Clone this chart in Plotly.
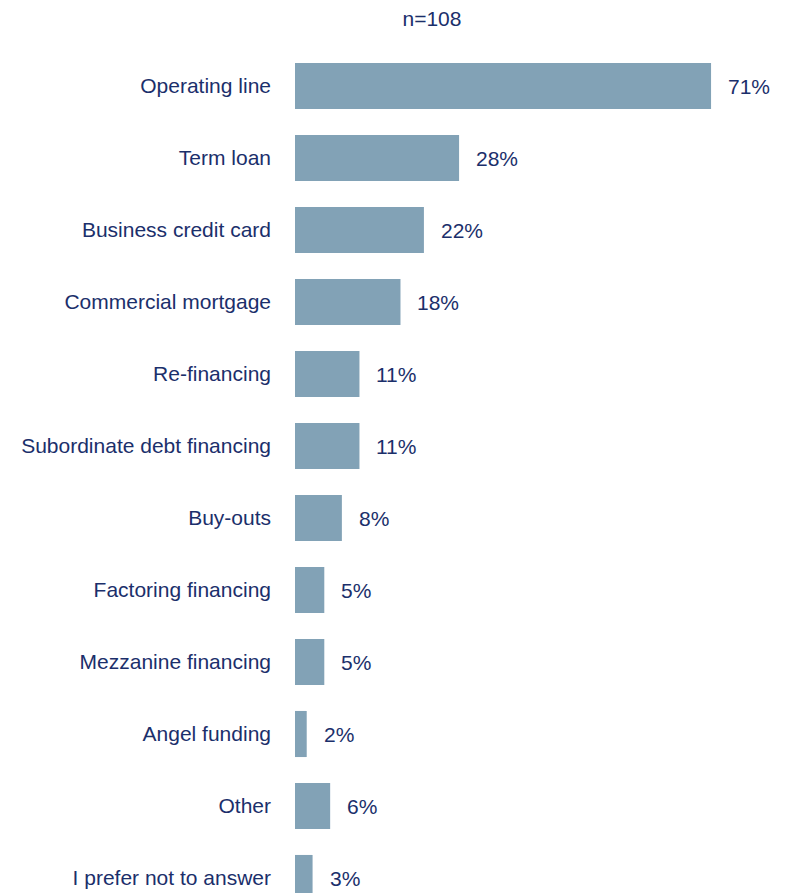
import plotly.graph_objects as go

categories = [
    "Operating line", "Term loan", "Business credit card", "Commercial mortgage",
    "Re-financing", "Subordinate debt financing", "Buy-outs", "Factoring financing",
    "Mezzanine financing", "Angel funding", "Other", "I prefer not to answer",
]
values = [71, 28, 22, 18, 11, 11, 8, 5, 5, 2, 6, 3]
value_labels = [f"{v}%" for v in values]
sample_label = "n=108"

BAR = "#82A2B6"
TEXT = "#1B2F6B"
FONT = "Liberation Sans, Arial, sans-serif"
FS = 21

positions = list(range(len(categories)))

fig = go.Figure(
    go.Bar(
        x=values,
        y=positions,
        orientation="h",
        width=0.64,
        marker=dict(color=BAR, line=dict(width=0)),
        hoverinfo="skip",
    )
)

for pos, val, lab in zip(positions, values, value_labels):
    fig.add_annotation(
        x=val, y=pos, xref="x", yref="y", text=lab, showarrow=False,
        xanchor="left", yanchor="middle", xshift=15,
        font=dict(family=FONT, size=FS, color=TEXT),
    )

fig.update_layout(
    width=786, height=893,
    margin=dict(l=295, r=0, t=50, b=0),
    paper_bgcolor="white", plot_bgcolor="white",
    showlegend=False,
    bargap=0.36,
    title=dict(
        text=sample_label, x=432 / 786, xanchor="center",
        y=1 - 19 / 893, yanchor="middle",
        font=dict(family=FONT, size=FS, color=TEXT),
    ),
    xaxis=dict(range=[0, 491 / 5.86], visible=False, fixedrange=True),
    yaxis=dict(
        tickmode="array", tickvals=positions, ticktext=categories,
        range=[(893 - 86) / 72, (50 - 86) / 72],
        showgrid=False, zeroline=False, showline=False, ticks="",
        ticklabelstandoff=23,
        tickfont=dict(family=FONT, size=FS, color=TEXT),
        fixedrange=True,
    ),
)

fig.write_html("out.html")
